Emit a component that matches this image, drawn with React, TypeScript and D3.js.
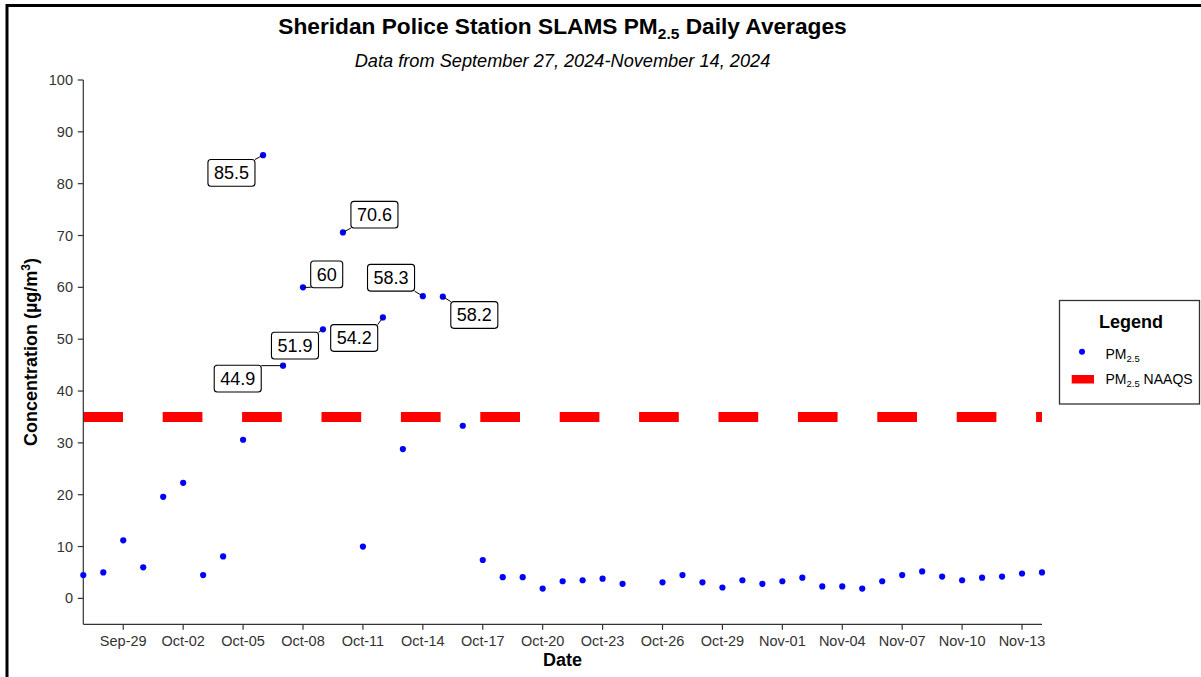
import React from 'react'
import * as d3 from 'd3'

// daily PM2.5 averages (ug/m3), Oct-25 has no value
const dates = [
  '2024-09-27', '2024-09-28', '2024-09-29', '2024-09-30', '2024-10-01', '2024-10-02', '2024-10-03',
  '2024-10-04', '2024-10-05', '2024-10-06', '2024-10-07', '2024-10-08', '2024-10-09', '2024-10-10',
  '2024-10-11', '2024-10-12', '2024-10-13', '2024-10-14', '2024-10-15', '2024-10-16', '2024-10-17',
  '2024-10-18', '2024-10-19', '2024-10-20', '2024-10-21', '2024-10-22', '2024-10-23', '2024-10-24',
  '2024-10-26', '2024-10-27', '2024-10-28', '2024-10-29', '2024-10-30', '2024-10-31',
  '2024-11-01', '2024-11-02', '2024-11-03', '2024-11-04', '2024-11-05', '2024-11-06', '2024-11-07',
  '2024-11-08', '2024-11-09', '2024-11-10', '2024-11-11', '2024-11-12', '2024-11-13', '2024-11-14',
]
const pm25 = [
  4.5, 5.0, 11.2, 6.0, 19.6, 22.3, 4.5,
  8.1, 30.6, 85.5, 44.9, 60, 51.9, 70.6,
  10.0, 54.2, 28.8, 58.3, 58.2, 33.3, 7.4,
  4.1, 4.1, 1.9, 3.3, 3.5, 3.8, 2.8,
  3.1, 4.5, 3.1, 2.1, 3.5, 2.8,
  3.3, 4.0, 2.3, 2.3, 1.9, 3.3, 4.5,
  5.2, 4.2, 3.5, 4.0, 4.2, 4.8, 5.0,
]
const naaqs = 35
const xDomain = ['2024-09-27', '2024-11-14']
const xTicks = [
  '2024-09-29', '2024-10-02', '2024-10-05', '2024-10-08', '2024-10-11', '2024-10-14', '2024-10-17',
  '2024-10-20', '2024-10-23', '2024-10-26', '2024-10-29', '2024-11-01', '2024-11-04', '2024-11-07',
  '2024-11-10', '2024-11-13',
]
const yTicks = [0, 10, 20, 30, 40, 50, 60, 70, 80, 90, 100]

// where the repelled labels ended up, px offset of label centre from its point
const labelNudge: Record<string, [number, number]> = {
  '2024-10-06': [-31.6, 17.7],
  '2024-10-07': [-45.3, 13],
  '2024-10-08': [23.7, -13],
  '2024-10-09': [-28, 16.3],
  '2024-10-10': [31.5, -17.7],
  '2024-10-12': [-28.7, 20.6],
  '2024-10-14': [-31.8, -18.4],
  '2024-10-15': [31.5, 18.3],
}

const FONT = '"Liberation Sans", Arial, sans-serif'
const parse = d3.utcParse('%Y-%m-%d')
const fmt = d3.utcFormat('%b-%d')

const textWidth = (s: string, size: number) =>
  s.split('').reduce((w, c) => w + (c === '.' ? 0.278 : 0.556), 0) * size

const App: React.FC = () => {
  const width = 1201
  const height = 677
  const left = 83.3
  const right = 1042
  const top = 80
  const bottom = 624.3

  const xScale = d3.scaleUtc().domain(xDomain.map((d) => parse(d) as Date)).range([left, right])
  const yScale = d3.scaleLinear().domain([-5, 100]).range([bottom, top])

  const points = dates.map((d, i) => ({ date: d, x: xScale(parse(d) as Date), y: yScale(pm25[i]), v: pm25[i] }))

  const createLabels = () => {
    return points
      .filter((p) => p.v > naaqs)
      .map((p) => {
        const txt = String(p.v)
        const [dx, dy] = labelNudge[p.date] || [0, -20]
        const w = textWidth(txt, 18) + 12
        const h = 26.7
        const cx = p.x + dx
        const cy = p.y + dy
        const bx = cx - w / 2
        const by = cy - h / 2
        const sx = Math.max(bx, Math.min(p.x, bx + w))
        const sy = Math.max(by, Math.min(p.y, by + h))
        return (
          <g key={`lab-${p.date}`}>
            <line x1={p.x} y1={p.y} x2={sx} y2={sy} stroke="#000" strokeWidth={1} />
            <rect x={bx} y={by} width={w} height={h} rx={3} fill="#fff" stroke="#000" strokeWidth={1.1} />
            <text x={cx} y={cy + 6.4} textAnchor="middle" fontSize={18} fill="#000">
              {txt}
            </text>
          </g>
        )
      })
  }

  return (
    <svg width={width} height={height} style={{ position: 'absolute', left: 0, top: 0, background: '#fff' }} fontFamily={FONT}>
      <rect x={0} y={0} width={width} height={height} fill="#fff" />
      <rect x={7} y={5.5} width={1400} height={900} fill="none" stroke="#000" strokeWidth={3} />

      {/* titles */}
      <text x={562.5} y={34} textAnchor="middle" fontSize={22.7} fontWeight="bold" fill="#000">
        Sheridan Police Station SLAMS PM
        <tspan fontSize={15.5} dy={5}>2.5</tspan>
        <tspan dy={-5}> Daily Averages</tspan>
      </text>
      <text x={562.5} y={67} textAnchor="middle" fontSize={18.2} fontStyle="italic" fill="#000">
        Data from September 27, 2024-November 14, 2024
      </text>

      {/* NAAQS line */}
      <line
        x1={left}
        x2={right}
        y1={yScale(naaqs)}
        y2={yScale(naaqs)}
        stroke="#ff0000"
        strokeWidth={10}
        strokeDasharray="39.7 39.7"
      />

      {/* axes */}
      <line x1={left} x2={left} y1={top} y2={bottom} stroke="#333" strokeWidth={1.2} />
      <line x1={left} x2={right} y1={bottom} y2={bottom} stroke="#333" strokeWidth={1.2} />
      {yTicks.map((t) => (
        <g key={`y${t}`}>
          <line x1={left - 5.5} x2={left} y1={yScale(t)} y2={yScale(t)} stroke="#333" strokeWidth={1.2} />
          <text x={73} y={yScale(t) + 5} textAnchor="end" fontSize={14.5} fill="#333">
            {t}
          </text>
        </g>
      ))}
      {xTicks.map((t) => {
        const x = xScale(parse(t) as Date)
        return (
          <g key={`x${t}`}>
            <line x1={x} x2={x} y1={bottom} y2={bottom + 5.5} stroke="#333" strokeWidth={1.2} />
            <text x={x} y={646} textAnchor="middle" fontSize={14.5} fill="#333">
              {fmt(parse(t) as Date)}
            </text>
          </g>
        )
      })}
      <text x={562.5} y={666} textAnchor="middle" fontSize={18} fontWeight="bold" fill="#000">
        Date
      </text>
      <text transform="translate(37,352) rotate(-90)" textAnchor="middle" fontSize={18} fontWeight="bold" fill="#000">
        Concentration (µg/m
        <tspan fontSize={12} dy={-7}>3</tspan>
        <tspan dy={7}>)</tspan>
      </text>

      {/* points */}
      {points.map((p) => (
        <circle key={p.date} cx={p.x} cy={p.y} r={3.1} fill="#0000ff" />
      ))}

      {createLabels()}

      {/* legend */}
      <rect x={1059.5} y={300.5} width={140} height={103.5} fill="#fff" stroke="#333" strokeWidth={1.3} />
      <text x={1131} y={328} textAnchor="middle" fontSize={18} fontWeight="bold" fill="#000">
        Legend
      </text>
      <circle cx={1082} cy={351.7} r={3} fill="#0000ff" />
      <text x={1105.5} y={359} fontSize={14} fill="#000">
        PM<tspan fontSize={9.5} dy={3}>2.5</tspan>
      </text>
      <rect x={1071.7} y={375} width={22.3} height={8.5} fill="#ff0000" />
      <text x={1105.5} y={384} fontSize={14} fill="#000">
        PM<tspan fontSize={9.5} dy={3}>2.5</tspan>
        <tspan dy={-3}> NAAQS</tspan>
      </text>
    </svg>
  )
}

export default App
